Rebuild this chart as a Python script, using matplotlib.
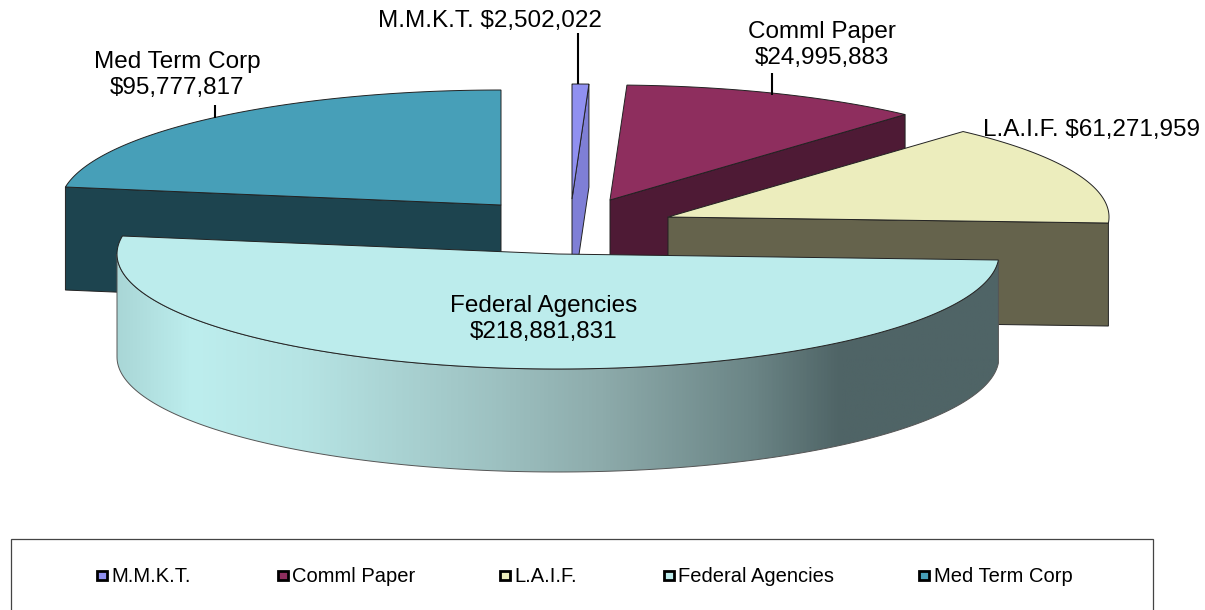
import numpy as np
import matplotlib
matplotlib.use("Agg")
import matplotlib.pyplot as plt
from matplotlib.patches import Polygon, Rectangle
from matplotlib.colors import LinearSegmentedColormap

plt.rcParams['font.family'] = ['Liberation Sans', 'DejaVu Sans']

# data
categories = ["M.M.K.T.", "Comml Paper", "L.A.I.F.", "Federal Agencies", "Med Term Corp"]
amounts = [2502022, 24995883, 61271959, 218881831, 95777817]
# angular sweep of each slice as drawn in the reference, clockwise from 12 o'clock
drawn_sweep_deg = [2.2, 39.8, 51.0, 186.0, 81.0]

# styling / layout
top_colors = ["#9090f0", "#8e2e5e", "#ecedbd", "#bcecec", "#479fb8"]
cut_colors = ["#7f7fd6", "#4e1a35", "#65634c", "#4f6466", "#1d444f"]
tips = [(572, 199), (610, 200), (668, 217), (558, 254), (501, 205)]
RX, RY, DEPTH = 441, 115, 103
EDGE = "#222222"

fig = plt.figure(figsize=(12.05, 6.10), dpi=100)
ax = fig.add_axes([0, 0, 1, 1])
ax.set_xlim(0, 1205)
ax.set_ylim(610, 0)
ax.axis("off")


def rim(tip, t0, t1, n=160):
    t = np.radians(np.linspace(t0, t1, n))
    return np.column_stack([tip[0] + RX * np.sin(t), tip[1] - RY * np.cos(t)])


def down(points):
    return np.asarray(points) + np.array([0, DEPTH])


edges = np.concatenate([[0], np.cumsum(drawn_sweep_deg)])
draw_order = [0, 4, 1, 2, 3]

for z, i in enumerate(draw_order):
    tip = tips[i]
    t0, t1 = edges[i], edges[i + 1]
    arc = rim(tip, t0, t1)
    base = 2 + z * 3
    tip_pt = np.array([tip])

    # Cut faces visible to the viewer
    if i == 3:
        # outer wall with horizontal shading, only the front-facing part of the rim
        wall_arc = rim(tip, t0, min(t1, 270))
        wall = np.vstack([wall_arc, down(wall_arc)[::-1]])
        patch = Polygon(wall, closed=True, facecolor="none", edgecolor="#555555", lw=0.7, zorder=base + 1)
        ax.add_patch(patch)
        cmap = LinearSegmentedColormap.from_list("wall", [
            (0.0, "#a9d6d6"), (0.085, "#bdeeee"), (0.21, "#b6e4e4"), (0.43, "#9dc1c1"),
            (0.55, "#8dabab"), (0.72, "#6b8586"), (0.82, "#4f6466"), (1.0, "#4f6466")])
        grad = np.linspace(0, 1, 512).reshape(1, -1)
        im = ax.imshow(grad, cmap=cmap, aspect="auto", extent=(116, 1000, 490, 230), zorder=base, vmin=0, vmax=1)
        im.set_clip_path(patch)
        ax.set_xlim(0, 1205)
        ax.set_ylim(610, 0)
    elif i == 4:
        face = np.vstack([tip_pt, arc[:1], down(arc[:1]), down(tip_pt)])
        ax.add_patch(Polygon(face, closed=True, fc=cut_colors[i], ec=EDGE, lw=0.7, zorder=base))
    else:
        face = np.vstack([tip_pt, arc[-1:], down(arc[-1:]), down(tip_pt)])
        ax.add_patch(Polygon(face, closed=True, fc=cut_colors[i], ec=EDGE, lw=0.7, zorder=base))

    top = np.vstack([tip_pt, arc])
    ax.add_patch(Polygon(top, closed=True, fc=top_colors[i], ec=EDGE, lw=0.7, zorder=base + 2))


def money(v):
    return f"${v:,.0f}"


FS = 17.5
label_spec = [
    (490, 21, f"{categories[0]} {money(amounts[0])}", "center"),
    (822, 45, f"{categories[1]}\n{money(amounts[1])}", "center"),
    (983, 130, f"{categories[2]} {money(amounts[2])}", "left"),
    (544, 319, f"{categories[3]}\n{money(amounts[3])}", "center"),
    (177, 75, f"{categories[4]}\n{money(amounts[4])}", "center"),
]
for x, y, s, ha in label_spec:
    ax.text(x, y, s, ha=ha, va="center", fontsize=FS, color="black", linespacing=1.27, zorder=40)

# leader lines
for x, y0, y1 in [(578, 84, 33), (772, 95, 73), (215, 118, 105)]:
    ax.plot([x, x], [y0, y1], color="black", lw=1.5, zorder=30, solid_capstyle="butt")

# legend
ax.add_patch(Rectangle((11, 539), 1142, 80, fc="white", ec="#444444", lw=0.9, zorder=35, clip_on=True))
swatch_x = [97, 278, 500, 664, 919]
for x, name, c in zip(swatch_x, categories, top_colors):
    ax.add_patch(Rectangle((x, 571), 9.5, 8.5, fc=c, ec="black", lw=2.0, zorder=36))
    ax.text(x + 14.5, 576, name, ha="left", va="center", fontsize=14.5, color="black", zorder=40)

fig.savefig("out.png", dpi=100, facecolor="white")
